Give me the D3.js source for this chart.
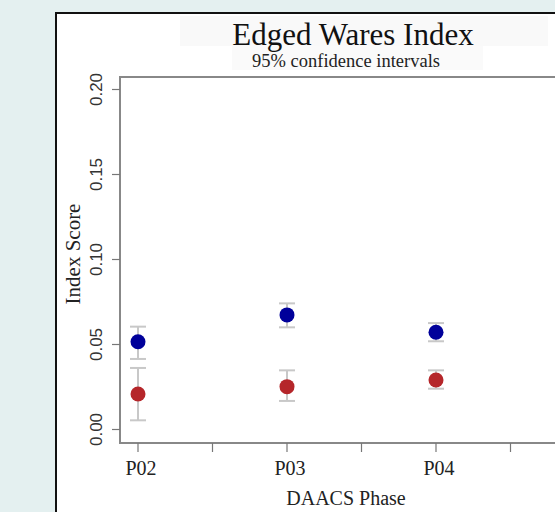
<!DOCTYPE html>
<html>
<head>
<meta charset="utf-8">
<script src="https://cdn.jsdelivr.net/npm/d3@7"></script>
<style>
  body { margin: 0; background: #e4f0f0; }
</style>
</head>
<body>
<div id="chart"></div>
<script>
// phases and index values
let phases = ["P02", "P03", "P04"];
let blueMean = [0.0516, 0.0674, 0.0572];
let blueLow = [0.0415, 0.0601, 0.0519];
let blueHigh = [0.0605, 0.0742, 0.0626];
let redMean = [0.0209, 0.0252, 0.0291];
let redLow = [0.0054, 0.0168, 0.0240];
let redHigh = [0.0362, 0.0348, 0.0348];
let yTicks = [0, 0.05, 0.10, 0.15, 0.20];
let xTicks = [0, 0.5, 1, 1.5, 2, 2.5];

let width = 555, height = 512;

let svg = d3.select("#chart")
  .append("svg")
  .attr("width", width)
  .attr("height", height);

// white panel
svg.append("rect")
  .attr("x", 56).attr("y", 13)
  .attr("width", 520).attr("height", 520)
  .attr("fill", "white")
  .attr("stroke", "#111")
  .attr("stroke-width", 2);

// faint title backdrops
svg.append("rect").attr("x", 180).attr("y", 16).attr("width", 368).attr("height", 30).attr("fill", "#f9f9f9");
svg.append("rect").attr("x", 232).attr("y", 46).attr("width", 251).attr("height", 24).attr("fill", "#fafafa");

svg.append("text")
  .attr("x", 353).attr("y", 45)
  .attr("text-anchor", "middle")
  .style("font-family", "Liberation Serif, serif")
  .style("font-size", "31px")
  .attr("fill", "#111")
  .text("Edged Wares Index");

svg.append("text")
  .attr("x", 346).attr("y", 67)
  .attr("text-anchor", "middle")
  .style("font-family", "Liberation Serif, serif")
  .style("font-size", "18.5px")
  .attr("fill", "#222")
  .text("95% confidence intervals");

let x = d3.scaleLinear().domain([0, 1]).range([138, 287]);
let y = d3.scaleLinear().domain([0, 0.05]).range([429.5, 344.5]);

// plot frame (left, top, bottom)
svg.append("path")
  .attr("d", "M700,77 H120 V443 H700")
  .attr("fill", "none")
  .attr("stroke", "#888")
  .attr("stroke-width", 2);

// y axis ticks + labels
svg.selectAll(".ytick")
  .data(yTicks)
  .enter()
  .append("line")
  .attr("x1", 112).attr("x2", 120)
  .attr("y1", d => y(d)).attr("y2", d => y(d))
  .attr("stroke", "#777")
  .attr("stroke-width", 1.2);

svg.selectAll(".ylab")
  .data(yTicks)
  .enter()
  .append("text")
  .attr("transform", d => "translate(102," + y(d) + ")rotate(-90)")
  .attr("text-anchor", "middle")
  .style("font-family", "Liberation Sans, Arial, sans-serif")
  .style("font-size", "17px")
  .attr("fill", "#333")
  .text(d => d.toFixed(2));

// x axis ticks + labels
svg.selectAll(".xtick")
  .data(xTicks)
  .enter()
  .append("line")
  .attr("x1", d => x(d)).attr("x2", d => x(d))
  .attr("y1", 443).attr("y2", 452)
  .attr("stroke", "#777")
  .attr("stroke-width", 1.2);

svg.selectAll(".xlab")
  .data(phases)
  .enter()
  .append("text")
  .attr("x", (d, i) => x(i) + 3)
  .attr("y", 475)
  .attr("text-anchor", "middle")
  .style("font-family", "Liberation Serif, serif")
  .style("font-size", "20px")
  .attr("fill", "#222")
  .text(d => d);

svg.append("text")
  .attr("x", 346).attr("y", 505)
  .attr("text-anchor", "middle")
  .style("font-family", "Liberation Serif, serif")
  .style("font-size", "20px")
  .attr("fill", "#222")
  .text("DAACS Phase");

svg.append("text")
  .attr("transform", "translate(80,254)rotate(-90)")
  .attr("text-anchor", "middle")
  .style("font-family", "Liberation Serif, serif")
  .style("font-size", "21px")
  .attr("fill", "#222")
  .text("Index Score");

// error bars and points
function drawSeries(mean, low, high, color) {
  let g = svg.append("g");
  let idx = mean.map((d, i) => i);
  g.selectAll(".bar").data(idx).enter().append("line")
    .attr("x1", i => x(i)).attr("x2", i => x(i))
    .attr("y1", i => y(low[i])).attr("y2", i => y(high[i]))
    .attr("stroke", "#c8c8c8").attr("stroke-width", 2);
  g.selectAll(".capl").data(idx).enter().append("line")
    .attr("x1", i => x(i) - 8).attr("x2", i => x(i) + 8)
    .attr("y1", i => y(low[i])).attr("y2", i => y(low[i]))
    .attr("stroke", "#c8c8c8").attr("stroke-width", 2);
  g.selectAll(".caph").data(idx).enter().append("line")
    .attr("x1", i => x(i) - 8).attr("x2", i => x(i) + 8)
    .attr("y1", i => y(high[i])).attr("y2", i => y(high[i]))
    .attr("stroke", "#c8c8c8").attr("stroke-width", 2);
  g.selectAll("circle").data(idx).enter().append("circle")
    .attr("cx", i => x(i))
    .attr("cy", i => y(mean[i]))
    .attr("r", 7.5)
    .attr("fill", color);
}

drawSeries(blueMean, blueLow, blueHigh, "#00009a");
drawSeries(redMean, redLow, redHigh, "#b5262a");
</script>
</body>
</html>
